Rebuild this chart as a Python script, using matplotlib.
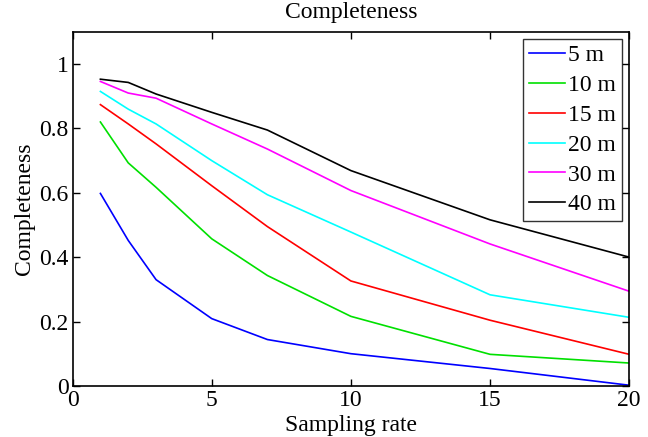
import matplotlib
matplotlib.use("Agg")
import matplotlib.pyplot as plt

plt.rcParams['font.family'] = ['Liberation Serif', 'DejaVu Serif']

# sampling rates and completeness per distance threshold
rates = [1, 2, 3, 5, 7, 10, 15, 20]
c_5m = [0.598, 0.452, 0.330, 0.209, 0.144, 0.100, 0.054, 0.002]
c_10m = [0.820, 0.693, 0.617, 0.457, 0.343, 0.216, 0.098, 0.071]
c_15m = [0.874, 0.814, 0.752, 0.622, 0.495, 0.326, 0.204, 0.098]
c_20m = [0.915, 0.860, 0.814, 0.700, 0.594, 0.478, 0.283, 0.213]
c_30m = [0.946, 0.910, 0.894, 0.814, 0.736, 0.607, 0.441, 0.294]
c_40m = [0.953, 0.943, 0.907, 0.850, 0.795, 0.669, 0.516, 0.400]

series = [c_5m, c_10m, c_15m, c_20m, c_30m, c_40m]
labels = ['5 m', '10 m', '15 m', '20 m', '30 m', '40 m']
colors = ['#0000ff', '#00e000', '#ff0000', '#00ffff', '#ff00ff', '#000000']

fig = plt.figure(figsize=(6.48, 4.37), dpi=100)
ax = fig.add_axes([0.112, 0.117, 0.859, 0.810])

for vals, lab, col in zip(series, labels, colors):
    ax.plot(rates, vals, color=col, lw=1.2, label=lab)

fs = 17
ax.set_xlim(0, 20)
ax.set_ylim(0, 1.1)
ax.set_xticks([0, 5, 10, 15, 20])
ax.set_yticks([0, 0.2, 0.4, 0.6, 0.8, 1])
ax.set_yticklabels(['0', '0.2', '0.4', '0.6', '0.8', '1'])
ax.tick_params(direction='in', length=5, width=1, top=True, right=True,
               labelsize=fs, pad=3)
for s in ax.spines.values():
    s.set_linewidth(1.2)

ax.set_title("Completeness", fontsize=fs, pad=10)
ax.set_xlabel("Sampling rate", fontsize=fs, labelpad=3)
ax.set_ylabel("Completeness", fontsize=fs, labelpad=3)

leg = ax.legend(loc='upper right', fontsize=fs, frameon=True, fancybox=False,
                edgecolor='black', handlelength=1.5, handletextpad=0.15,
                labelspacing=0.35, borderpad=0.25, borderaxespad=0.3)
leg.get_frame().set_linewidth(1.0)

fig.savefig("out.png", dpi=100)
